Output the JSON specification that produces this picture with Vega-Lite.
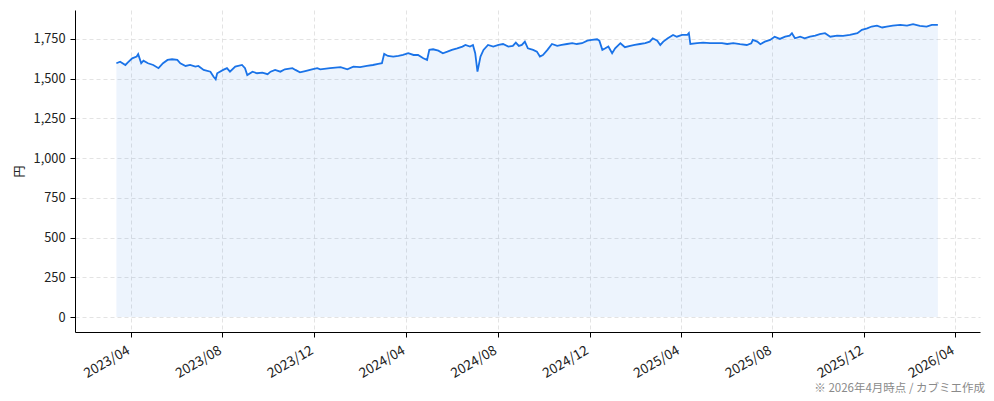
{
  "$schema": "https://vega.github.io/schema/vega-lite/v6.json",
  "width": 905,
  "height": 322,
  "autosize": "none",
  "padding": {"left": 75, "top": 10, "right": 14, "bottom": 69},
  "background": "white",
  "title": {
    "text": "※ 2026年4月時点 / カブミエ作成",
    "orient": "bottom",
    "anchor": "end",
    "frame": "group",
    "dx": 5,
    "offset": 3,
    "fontSize": 11.5,
    "fontWeight": "normal",
    "color": "#8a8a8a",
    "font": "Noto Sans CJK JP"
  },
  "config": {
    "view": {"stroke": null},
    "font": "Noto Sans CJK JP",
    "axis": {
      "labelFont": "Noto Sans CJK JP",
      "labelColor": "#222",
      "domainColor": "#000",
      "domainWidth": 1,
      "tickColor": "#000",
      "tickSize": 5,
      "gridColor": "#dcdcdc",
      "gridDash": [4, 3],
      "gridWidth": 0.8
    }
  },
  "data": {
    "values": [
      {"date": "2023-03-13", "price": 1597},
      {"date": "2023-03-18", "price": 1607},
      {"date": "2023-03-25", "price": 1586},
      {"date": "2023-03-28", "price": 1601},
      {"date": "2023-04-03", "price": 1628},
      {"date": "2023-04-09", "price": 1639},
      {"date": "2023-04-11", "price": 1654},
      {"date": "2023-04-15", "price": 1597},
      {"date": "2023-04-18", "price": 1613},
      {"date": "2023-04-24", "price": 1597},
      {"date": "2023-05-01", "price": 1586},
      {"date": "2023-05-08", "price": 1566},
      {"date": "2023-05-14", "price": 1597},
      {"date": "2023-05-20", "price": 1618},
      {"date": "2023-05-26", "price": 1622},
      {"date": "2023-06-02", "price": 1618},
      {"date": "2023-06-06", "price": 1597},
      {"date": "2023-06-13", "price": 1580},
      {"date": "2023-06-19", "price": 1586},
      {"date": "2023-06-26", "price": 1576},
      {"date": "2023-06-30", "price": 1580},
      {"date": "2023-07-07", "price": 1555},
      {"date": "2023-07-16", "price": 1544},
      {"date": "2023-07-20", "price": 1513},
      {"date": "2023-07-23", "price": 1496},
      {"date": "2023-07-25", "price": 1534},
      {"date": "2023-08-02", "price": 1555},
      {"date": "2023-08-07", "price": 1566},
      {"date": "2023-08-11", "price": 1544},
      {"date": "2023-08-18", "price": 1576},
      {"date": "2023-08-27", "price": 1586},
      {"date": "2023-08-31", "price": 1566},
      {"date": "2023-09-03", "price": 1523},
      {"date": "2023-09-10", "price": 1544},
      {"date": "2023-09-16", "price": 1534},
      {"date": "2023-09-23", "price": 1538},
      {"date": "2023-09-30", "price": 1528},
      {"date": "2023-10-04", "price": 1544},
      {"date": "2023-10-10", "price": 1555},
      {"date": "2023-10-17", "price": 1544},
      {"date": "2023-10-23", "price": 1559},
      {"date": "2023-11-02", "price": 1566},
      {"date": "2023-11-06", "price": 1555},
      {"date": "2023-11-12", "price": 1540},
      {"date": "2023-11-19", "price": 1548},
      {"date": "2023-11-28", "price": 1559},
      {"date": "2023-12-05", "price": 1566},
      {"date": "2023-12-09", "price": 1558},
      {"date": "2023-12-22", "price": 1566},
      {"date": "2024-01-05", "price": 1572},
      {"date": "2024-01-14", "price": 1559},
      {"date": "2024-01-22", "price": 1576},
      {"date": "2024-01-31", "price": 1572},
      {"date": "2024-02-09", "price": 1580},
      {"date": "2024-02-17", "price": 1586},
      {"date": "2024-02-24", "price": 1593},
      {"date": "2024-02-29", "price": 1597},
      {"date": "2024-03-03", "price": 1656},
      {"date": "2024-03-08", "price": 1643},
      {"date": "2024-03-15", "price": 1639},
      {"date": "2024-03-22", "price": 1643},
      {"date": "2024-03-28", "price": 1649},
      {"date": "2024-04-04", "price": 1660},
      {"date": "2024-04-11", "price": 1649},
      {"date": "2024-04-17", "price": 1649},
      {"date": "2024-04-24", "price": 1628},
      {"date": "2024-04-29", "price": 1618},
      {"date": "2024-05-02", "price": 1681},
      {"date": "2024-05-07", "price": 1685},
      {"date": "2024-05-14", "price": 1676},
      {"date": "2024-05-20", "price": 1660},
      {"date": "2024-05-26", "price": 1670},
      {"date": "2024-06-01", "price": 1681},
      {"date": "2024-06-08", "price": 1691},
      {"date": "2024-06-15", "price": 1702},
      {"date": "2024-06-19", "price": 1712},
      {"date": "2024-06-25", "price": 1702},
      {"date": "2024-06-29", "price": 1712},
      {"date": "2024-07-02", "price": 1660},
      {"date": "2024-07-05", "price": 1544},
      {"date": "2024-07-09", "price": 1639},
      {"date": "2024-07-13", "price": 1681},
      {"date": "2024-07-19", "price": 1712},
      {"date": "2024-07-26", "price": 1702},
      {"date": "2024-08-02", "price": 1712},
      {"date": "2024-08-08", "price": 1718},
      {"date": "2024-08-15", "price": 1702},
      {"date": "2024-08-21", "price": 1706},
      {"date": "2024-08-25", "price": 1727},
      {"date": "2024-08-29", "price": 1706},
      {"date": "2024-09-02", "price": 1712},
      {"date": "2024-09-06", "price": 1733},
      {"date": "2024-09-10", "price": 1691},
      {"date": "2024-09-17", "price": 1681},
      {"date": "2024-09-22", "price": 1670},
      {"date": "2024-09-26", "price": 1639},
      {"date": "2024-09-30", "price": 1649},
      {"date": "2024-10-06", "price": 1681},
      {"date": "2024-10-12", "price": 1718},
      {"date": "2024-10-19", "price": 1706},
      {"date": "2024-10-25", "price": 1712},
      {"date": "2024-11-01", "price": 1718},
      {"date": "2024-11-08", "price": 1723},
      {"date": "2024-11-14", "price": 1718},
      {"date": "2024-11-21", "price": 1723},
      {"date": "2024-11-28", "price": 1739},
      {"date": "2024-12-04", "price": 1744},
      {"date": "2024-12-11", "price": 1748},
      {"date": "2024-12-14", "price": 1739},
      {"date": "2024-12-18", "price": 1681},
      {"date": "2024-12-22", "price": 1691},
      {"date": "2024-12-26", "price": 1702},
      {"date": "2024-12-31", "price": 1660},
      {"date": "2025-01-04", "price": 1691},
      {"date": "2025-01-11", "price": 1723},
      {"date": "2025-01-17", "price": 1698},
      {"date": "2025-01-24", "price": 1706},
      {"date": "2025-01-30", "price": 1712},
      {"date": "2025-02-06", "price": 1718},
      {"date": "2025-02-13", "price": 1723},
      {"date": "2025-02-19", "price": 1733},
      {"date": "2025-02-23", "price": 1754},
      {"date": "2025-03-01", "price": 1739},
      {"date": "2025-03-05", "price": 1712},
      {"date": "2025-03-09", "price": 1733},
      {"date": "2025-03-15", "price": 1754},
      {"date": "2025-03-22", "price": 1775},
      {"date": "2025-03-27", "price": 1764},
      {"date": "2025-04-03", "price": 1775},
      {"date": "2025-04-10", "price": 1775},
      {"date": "2025-04-12", "price": 1786},
      {"date": "2025-04-14", "price": 1718},
      {"date": "2025-04-23", "price": 1723},
      {"date": "2025-05-01", "price": 1727},
      {"date": "2025-05-10", "price": 1723},
      {"date": "2025-05-19", "price": 1723},
      {"date": "2025-05-26", "price": 1723},
      {"date": "2025-06-02", "price": 1718},
      {"date": "2025-06-10", "price": 1723},
      {"date": "2025-06-19", "price": 1717},
      {"date": "2025-06-28", "price": 1712},
      {"date": "2025-07-04", "price": 1723},
      {"date": "2025-07-06", "price": 1744},
      {"date": "2025-07-12", "price": 1733},
      {"date": "2025-07-16", "price": 1717},
      {"date": "2025-07-22", "price": 1733},
      {"date": "2025-07-29", "price": 1744},
      {"date": "2025-08-04", "price": 1764},
      {"date": "2025-08-11", "price": 1750},
      {"date": "2025-08-18", "price": 1764},
      {"date": "2025-08-24", "price": 1771},
      {"date": "2025-08-27", "price": 1786},
      {"date": "2025-08-31", "price": 1754},
      {"date": "2025-09-07", "price": 1764},
      {"date": "2025-09-13", "price": 1754},
      {"date": "2025-09-20", "price": 1764},
      {"date": "2025-09-27", "price": 1771},
      {"date": "2025-10-03", "price": 1780},
      {"date": "2025-10-10", "price": 1786},
      {"date": "2025-10-17", "price": 1764},
      {"date": "2025-10-26", "price": 1771},
      {"date": "2025-11-03", "price": 1769},
      {"date": "2025-11-12", "price": 1775},
      {"date": "2025-11-22", "price": 1786},
      {"date": "2025-11-28", "price": 1807},
      {"date": "2025-12-05", "price": 1817},
      {"date": "2025-12-11", "price": 1828},
      {"date": "2025-12-18", "price": 1834},
      {"date": "2025-12-25", "price": 1822},
      {"date": "2025-12-31", "price": 1828},
      {"date": "2026-01-08", "price": 1834},
      {"date": "2026-01-18", "price": 1838},
      {"date": "2026-01-27", "price": 1834},
      {"date": "2026-02-04", "price": 1843},
      {"date": "2026-02-13", "price": 1832},
      {"date": "2026-02-22", "price": 1828},
      {"date": "2026-03-01", "price": 1838},
      {"date": "2026-03-09", "price": 1838}
    ]
  },
  "encoding": {
    "x": {
      "field": "date",
      "type": "temporal",
      "scale": {
        "type": "utc",
        "domain": [
          {"year": 2023, "month": 1, "date": 17, "utc": true},
          {"year": 2026, "month": 5, "date": 4, "utc": true}
        ]
      },
      "axis": {
        "title": null,
        "format": "%Y/%m",
        "values": [
          {"year": 2023, "month": 4, "date": 1, "utc": true},
          {"year": 2023, "month": 8, "date": 1, "utc": true},
          {"year": 2023, "month": 12, "date": 1, "utc": true},
          {"year": 2024, "month": 4, "date": 1, "utc": true},
          {"year": 2024, "month": 8, "date": 1, "utc": true},
          {"year": 2024, "month": 12, "date": 1, "utc": true},
          {"year": 2025, "month": 4, "date": 1, "utc": true},
          {"year": 2025, "month": 8, "date": 1, "utc": true},
          {"year": 2025, "month": 12, "date": 1, "utc": true},
          {"year": 2026, "month": 4, "date": 1, "utc": true}
        ],
        "labelFontSize": 13.5,
        "labelAngle": -30,
        "labelAlign": "right",
        "labelBaseline": "top",
        "labelPadding": 6,
        "labelOffset": -6,
        "labelOverlap": false,
        "labelFlush": false,
        "grid": true
      }
    },
    "y": {
      "field": "price",
      "type": "quantitative",
      "scale": {"domain": [-94, 1932], "nice": false, "zero": false},
      "axis": {
        "title": "円",
        "titleFont": "Noto Sans CJK JP",
        "titleFontSize": 12,
        "titleFontWeight": "normal",
        "titleColor": "#222",
        "titlePadding": 7,
        "values": [0, 250, 500, 750, 1000, 1250, 1500, 1750],
        "format": ",.0f",
        "labelFontSize": 12.8,
        "labelPadding": 5,
        "grid": true
      }
    }
  },
  "layer": [
    {
      "mark": {"type": "area", "color": "#1a73e8", "opacity": 0.08},
      "encoding": {"y2": {"datum": 0}}
    },
    {
      "mark": {"type": "line", "color": "#1a73e8", "strokeWidth": 1.8}
    }
  ]
}
